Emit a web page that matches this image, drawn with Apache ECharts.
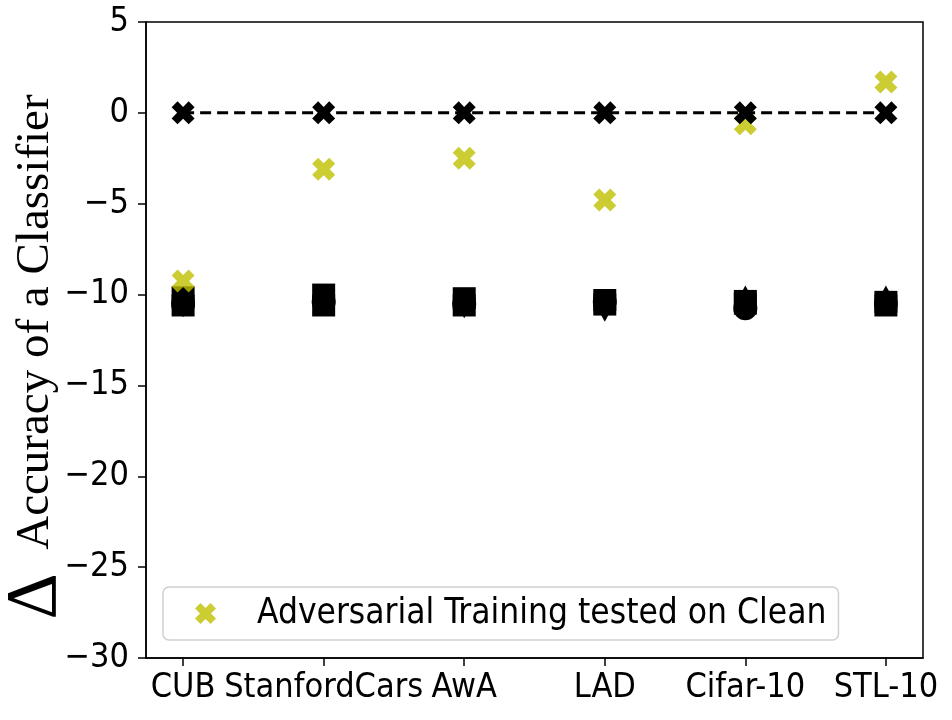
<!DOCTYPE html>
<html>
<head>
<meta charset="utf-8">
<script src="https://cdn.jsdelivr.net/npm/echarts@6/dist/echarts.min.js"></script>
<style>html,body{margin:0;padding:0;background:#fff}#c{width:952px;height:720px}</style>
</head>
<body>
<div id="c"></div>
<script>
var categories = ['CUB', 'StanfordCars', 'AwA', 'LAD', 'Cifar-10', 'STL-10'];
var baseline = [0, 0, 0, 0, 0, 0];
var advClean = [-9.25, -3.1, -2.5, -4.8, -0.6, 1.7];
var blackRectA = [-10.15, -10.0, -10.2, -10.3, -10.35, -10.4];
var blackRectB = [-10.6, -10.6, -10.6, -10.55, -10.5, -10.6];
var blackCircle = [-10.5, -10.4, -10.5, -10.4, -10.75, -10.5];
var blackTriUp = [-10.3, -10.05, -10.2, -10.3, -10.05, -10.05];
var blackTriDown = [-10.7, -10.6, -10.75, -10.95, -10.6, -10.55];
var yTicks = [5, 0, -5, -10, -15, -20, -25, -30];

var X = 'path://M0,2.6 L2.6,0 L5,2.4 L7.4,0 L10,2.6 L7.6,5 L10,7.4 L7.4,10 L5,7.6 L2.6,10 L0,7.4 L2.4,5 Z';
function pts(arr) { return arr.map(function (v, i) { return [i, v]; }); }
var FONT = 'DejaVu Sans Condensed, DejaVu Sans, sans-serif';

function blk(name, sym, arr, size) {
  return { name: name, type: 'scatter', symbol: sym, symbolSize: size, data: pts(arr),
    itemStyle: { color: '#000', opacity: 1 }, z: 3, silent: true };
}

var chart = echarts.init(document.getElementById('c'), null, { renderer: 'canvas' });
chart.setOption({
  animation: false,
  backgroundColor: '#fff',
  grid: { left: 146, right: 29, top: 22, bottom: 62, containLabel: false, outerBoundsMode: 'none',
    show: true, borderColor: '#000', borderWidth: 1.5, backgroundColor: 'transparent' },
  xAxis: {
    type: 'value', min: -0.264, max: 5.264,
    axisLine: { show: true, onZero: false, lineStyle: { color: '#000', width: 1.5 } },
    axisTick: { show: true, inside: false, customValues: [0, 1, 2, 3, 4, 5], length: 8, lineStyle: { color: '#000', width: 1.5 } },
    axisLabel: { customValues: [0, 1, 2, 3, 4, 5], formatter: function (v) { return categories[Math.round(v)]; },
      fontFamily: FONT, fontSize: 34, color: '#000', margin: 13, hideOverlap: false },
    splitLine: { show: false }
  },
  yAxis: {
    type: 'value', min: -30, max: 5, interval: 5,
    name: '{d|Δ}  {t|Accuracy of a Classifier}', nameLocation: 'middle', nameGap: 74, nameRotate: 90,
    nameMoveOverlap: false,
    nameTextStyle: { fontFamily: 'Liberation Serif, Times New Roman, serif', color: '#000', fontSize: 47,
      padding: [0, 34, 0, 0],
      rich: {
        d: { fontFamily: 'Liberation Serif, serif', fontSize: 72, color: '#000' },
        t: { fontFamily: 'Liberation Serif, serif', fontSize: 47, color: '#000' }
      } },
    axisLine: { show: true, onZero: false, lineStyle: { color: '#000', width: 1.5 } },
    axisTick: { show: true, inside: false, length: 8, lineStyle: { color: '#000', width: 1.5 } },
    axisLabel: { formatter: function (v) { return String(v).replace('-', '\u2212'); },
      fontFamily: FONT, fontSize: 34, color: '#000', margin: 17 },
    splitLine: { show: false }
  },
  legend: {
    data: ['Adversarial Training tested on Clean'],
    left: 163, top: 587,
    backgroundColor: '#fff', borderColor: '#d0d0d0', borderWidth: 1.5, borderRadius: 6,
    padding: [9, 12, 9, 32],
    itemWidth: 21, itemHeight: 21,
    textStyle: { fontFamily: FONT, fontSize: 35, color: '#000', padding: [0, 0, 0, 36] }
  },
  series: [
    blk('b1', 'rect', blackRectA, [23, 22]),
    blk('b2', 'rect', blackRectB, [23, 22]),
    blk('b3', 'circle', blackCircle, 24),
    blk('b4', 'triangle', blackTriUp, [22, 20]),
    blk('b5', 'path://M0,0 L10,0 L5,10 Z', blackTriDown, [22, 20]),
    {
      name: 'Adversarial Training tested on Clean', type: 'scatter', symbol: X, symbolSize: 23,
      data: pts(advClean), itemStyle: { color: '#bfbf00' }, z: 4
    },
    {
      name: 'Baseline', type: 'line', symbol: X, symbolSize: 23, showSymbol: true,
      data: pts(baseline), itemStyle: { color: '#000' },
      lineStyle: { color: '#000', width: 3, type: [11, 6] }, z: 5
    }
  ]
});
</script>
</body>
</html>
